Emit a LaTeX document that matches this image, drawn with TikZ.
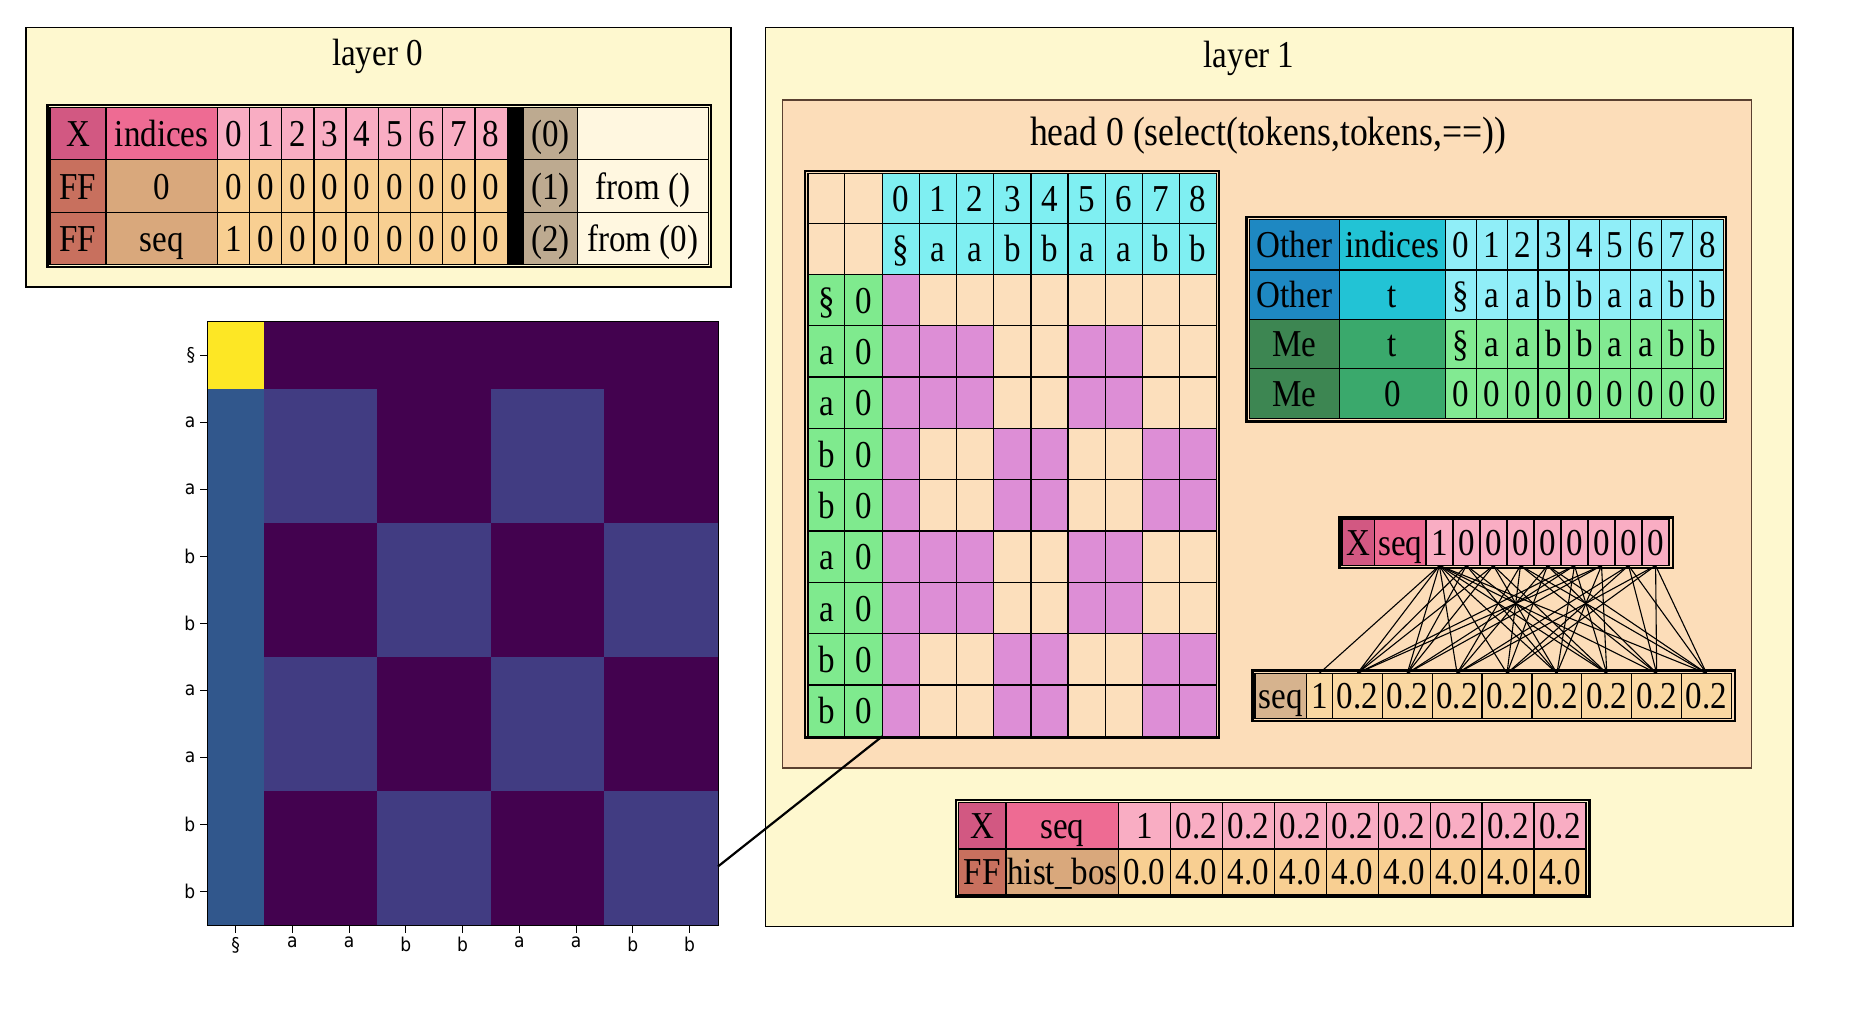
\documentclass[tikz,border=0pt]{standalone}
\usepackage{fontspec}
\setmainfont{Liberation Serif}[FakeStretch=0.87]
\newfontfamily\tickfamily{DejaVu Sans}[FakeStretch=0.9]

\definecolor{layerbg}{HTML}{FEF8CF}
\definecolor{headbg}{HTML}{FCDDB9}
\definecolor{headline}{HTML}{5A4030}
\definecolor{xlab}{HTML}{D25882}
\definecolor{xname}{HTML}{EE6B93}
\definecolor{xval}{HTML}{F9ADC3}
\definecolor{fflab}{HTML}{C8705E}
\definecolor{ffname}{HTML}{D9A87C}
\definecolor{ffval}{HTML}{F8CF92}
\definecolor{opcol}{HTML}{BDAA90}
\definecolor{fromcol}{HTML}{FFF7E0}
\definecolor{cyanhd}{HTML}{7FEFF2}
\definecolor{greenlab}{HTML}{7FEA8E}
\definecolor{selc}{HTML}{DD8ED6}
\definecolor{unsel}{HTML}{FCDFBC}
\definecolor{otherlab}{HTML}{1E88C2}
\definecolor{othername}{HTML}{22C3D5}
\definecolor{otherval}{HTML}{90EEF8}
\definecolor{melab}{HTML}{3D8652}
\definecolor{mename}{HTML}{3AA96C}
\definecolor{meval}{HTML}{82EA92}
\definecolor{seqlab}{HTML}{D6B38E}
\definecolor{seqval}{HTML}{FAD8A2}
\definecolor{hmY}{HTML}{FDE725}
\definecolor{hmD}{HTML}{43024F}
\definecolor{hmB}{HTML}{31578C}
\definecolor{hmS}{HTML}{413C82}

\tikzset{
  tcell/.style={draw=black, line width=1.3pt, inner sep=0pt, outer sep=0pt,
    font=\fontsize{38}{44}\selectfont, text height=26pt, text depth=0pt},
  layerbox/.style={draw=black, line width=1.6pt, fill=layerbg},
  headbox/.style={draw=headline, line width=1.2pt, fill=headbg},
  titletext/.style={font=\fontsize{38}{44}\selectfont, inner sep=0pt},
  tabframe/.style={draw=black, line width=2.4pt},
  edge/.style={draw=black, line width=1.1pt},
  ticklab/.style={font=\tickfamily\fontsize{19}{21}\selectfont, inner sep=1pt},
  tickmark/.style={draw=black, line width=0.9pt},
}

\newcommand\tcell[7]{%
  \node[tcell, fill=#6, minimum width={((#4)-(#2))*1.1907pt},
    minimum height={((#5)-(#3))*1.1907pt}] (#1) at ({((#2)+(#4))/2},{((#3)+(#5))/2}) {#7};}

\begin{document}
\begin{tikzpicture}[x=1.1907pt, y=-1.1907pt]
\useasboundingbox (0,0) rectangle (1568,851);
\fill[white] (0,0) rectangle (1568,851);

% ================= layer 0 =================
\draw[layerbox] (22,23) rectangle (614,241);
\node[titletext] (l0title) at (317,47) {layer 0};

\tcell{a0l}{42}{90}{89}{134}{xlab}{X}
\tcell{a0n}{89}{90}{182.5}{134}{xname}{indices}
\tcell{a1l}{42}{134}{89}{178.5}{fflab}{FF}
\tcell{a1n}{89}{134}{182.5}{178.5}{ffname}{0}
\tcell{a2l}{42}{178.5}{89}{222}{fflab}{FF}
\tcell{a2n}{89}{178.5}{182.5}{222}{ffname}{seq}
\foreach \k/\v in {0/1,1/0,2/0,3/0,4/0,5/0,6/0,7/0,8/0}{
  \pgfmathsetmacro\xa{182.5+27.05*\k}\pgfmathsetmacro\xb{\xa+27.05}
  \tcell{a0v\k}{\xa}{90}{\xb}{134}{xval}{\k}
  \tcell{a1v\k}{\xa}{134}{\xb}{178.5}{ffval}{0}
  \tcell{a2v\k}{\xa}{178.5}{\xb}{222}{ffval}{\v}
}
\tcell{abar}{426}{90}{439.5}{222}{black}{}
\tcell{a0p}{439.5}{90}{485}{134}{opcol}{(0)}
\tcell{a1p}{439.5}{134}{485}{178.5}{opcol}{(1)}
\tcell{a2p}{439.5}{178.5}{485}{222}{opcol}{(2)}
\tcell{a0f}{485}{90}{595}{134}{fromcol}{}
\tcell{a1f}{485}{134}{595}{178.5}{fromcol}{from ()}
\tcell{a2f}{485}{178.5}{595}{222}{fromcol}{from (0)}
\draw[tabframe] (40,88) rectangle (597,224);

% ================= heatmap =================
\foreach \i in {0,...,8}{
  \foreach \j in {0,...,8}{
    \pgfmathtruncatemacro\ti{{0,1,1,2,2,1,1,2,2}[\i]}
    \pgfmathtruncatemacro\tj{{0,1,1,2,2,1,1,2,2}[\j]}
    \def\hc{hmD}
    \ifnum\i=0
      \ifnum\j=0 \def\hc{hmY}\fi
    \else
      \ifnum\j=0 \def\hc{hmB}\else
        \ifnum\ti=\tj \def\hc{hmS}\fi
      \fi
    \fi
    \fill[\hc] ({174+47.667*\j},{270+56.333*\i}) rectangle ++(47.8,56.5);
  }
}
\draw[line width=0.9pt] (174,270) rectangle (603,777);
\foreach \i/\t in {0/§,1/a,2/a,3/b,4/b,5/a,6/a,7/b,8/b}{
  \pgfmathsetmacro\yc{270+56.333*(\i+0.5)}
  \pgfmathsetmacro\xc{174+47.667*(\i+0.5)}
  \draw[tickmark] (174,\yc) -- (168,\yc);
  \node[ticklab, anchor=east] (yl\i) at (165,\yc) {\t};
  \draw[tickmark] (\xc,777) -- (\xc,783.5);
  \node[ticklab, anchor=north] (xl\i) at (\xc,786) {\t};
}
\coordinate (hmR) at (603,727.7);

% ================= layer 1 =================
\draw[layerbox] (643,23) rectangle (1506,778);
\node[titletext] (l1title) at (1049,49) {layer 1};
\draw[headbox] (657,84) rectangle (1471,645);
\node[titletext, font=\fontsize{41}{47}\selectfont] (h0title) at (1065,114) {head 0 (select(tokens,tokens,==))};

% ---- selection grid ----
\tcell{gh0a}{678.5}{145.5}{709.5}{187.5}{unsel}{}
\tcell{gh0b}{709.5}{145.5}{741}{187.5}{unsel}{}
\tcell{gh1a}{678.5}{187.5}{709.5}{230.5}{unsel}{}
\tcell{gh1b}{709.5}{187.5}{741}{230.5}{unsel}{}
\foreach \j/\t in {0/§,1/a,2/a,3/b,4/b,5/a,6/a,7/b,8/b}{
  \pgfmathsetmacro\xa{741+31.2*\j}\pgfmathsetmacro\xb{\xa+31.2}
  \tcell{gi\j}{\xa}{145.5}{\xb}{187.5}{cyanhd}{\j}
  \tcell{gt\j}{\xa}{187.5}{\xb}{230.5}{cyanhd}{\t}
}
\foreach \i/\t/\c in {0/§/0,1/a/1,2/a/1,3/b/2,4/b/2,5/a/1,6/a/1,7/b/2,8/b/2}{
  \pgfmathsetmacro\ya{230.5+43.1*\i}\pgfmathsetmacro\yb{\ya+43.1}
  \tcell{gl\i}{678.5}{\ya}{709.5}{\yb}{greenlab}{\t}
  \tcell{gz\i}{709.5}{\ya}{741}{\yb}{greenlab}{0}
  \foreach \j/\d in {0/0,1/1,2/1,3/2,4/2,5/1,6/1,7/2,8/2}{
    \pgfmathsetmacro\xa{741+31.2*\j}\pgfmathsetmacro\xb{\xa+31.2}
    \pgfmathtruncatemacro\sel{(\j==0)||(\c==\d)}
    \ifnum\sel=1 \def\cc{selc}\else\def\cc{unsel}\fi
    \tcell{g-\i-\j}{\xa}{\ya}{\xb}{\yb}{\cc}{}
  }
}
\draw[tabframe] (676,143.5) rectangle (1024,619.5);

% ---- Other / Me table ----
\tcell{o0l}{1049.5}{184.5}{1124.7}{226.7}{otherlab}{Other}
\tcell{o0n}{1124.7}{184.5}{1214}{226.7}{othername}{indices}
\tcell{o1l}{1049.5}{226.7}{1124.7}{268.1}{otherlab}{Other}
\tcell{o1n}{1124.7}{226.7}{1214}{268.1}{othername}{t}
\tcell{o2l}{1049.5}{268.1}{1124.7}{309.5}{melab}{Me}
\tcell{o2n}{1124.7}{268.1}{1214}{309.5}{mename}{t}
\tcell{o3l}{1049.5}{309.5}{1124.7}{351.5}{melab}{Me}
\tcell{o3n}{1124.7}{309.5}{1214}{351.5}{mename}{0}
\foreach \k/\t in {0/§,1/a,2/a,3/b,4/b,5/a,6/a,7/b,8/b}{
  \pgfmathsetmacro\xa{1214+25.92*\k}\pgfmathsetmacro\xb{\xa+25.92}
  \tcell{o0v\k}{\xa}{184.5}{\xb}{226.7}{otherval}{\k}
  \tcell{o1v\k}{\xa}{226.7}{\xb}{268.1}{otherval}{\t}
  \tcell{o2v\k}{\xa}{268.1}{\xb}{309.5}{meval}{\t}
  \tcell{o3v\k}{\xa}{309.5}{\xb}{351.5}{meval}{0}
}
\draw[tabframe] (1047,182) rectangle (1449.5,354);

% ---- X seq (small) ----
\tcell{sxl}{1127}{436.5}{1154.5}{475}{xlab}{X}
\tcell{sxn}{1154.5}{436.5}{1197.5}{475}{xname}{seq}
\foreach \k/\v in {0/1,1/0,2/0,3/0,4/0,5/0,6/0,7/0,8/0}{
  \pgfmathsetmacro\xa{1197.5+22.7*\k}\pgfmathsetmacro\xb{\xa+22.7}
  \tcell{t\k}{\xa}{436.5}{\xb}{475}{xval}{\v}
}
\draw[tabframe] (1125,434.5) rectangle (1405,477);

% ---- seq aggregated ----
\tcell{sbn}{1054}{565.5}{1097}{603.5}{seqlab}{seq}
\tcell{b0}{1097}{565.5}{1119}{603.5}{seqval}{1}
\foreach \k in {1,...,8}{
  \pgfmathsetmacro\xa{1119+41.9*(\k-1)}\pgfmathsetmacro\xb{\xa+41.9}
  \tcell{b\k}{\xa}{565.5}{\xb}{603.5}{seqval}{0.2}
}
\draw[tabframe] (1052,563) rectangle (1457,605.5);

% ---- attention edges ----
\foreach \i/\c in {0/0,1/1,2/1,3/2,4/2,5/1,6/1,7/2,8/2}{
  \foreach \j/\d in {0/0,1/1,2/1,3/2,4/2,5/1,6/1,7/2,8/2}{
    \pgfmathtruncatemacro\sel{(\j==0)||(\c==\d)}
    \ifnum\sel=1 \draw[edge] (t\j.south) -- (b\i.north);\fi
  }
}

% ---- bottom result table ----
\tcell{r0l}{805}{674}{845}{713}{xlab}{X}
\tcell{r0n}{845}{674}{939.5}{713}{xname}{seq}
\tcell{r1l}{805}{713}{845}{751}{fflab}{FF}
\tcell{r1n}{845}{713}{939.5}{751}{ffname}{hist\_bos}
\foreach \k/\v/\w in {0/1/0.0,1/0.2/4.0,2/0.2/4.0,3/0.2/4.0,4/0.2/4.0,5/0.2/4.0,6/0.2/4.0,7/0.2/4.0,8/0.2/4.0}{
  \pgfmathsetmacro\xa{939.5+43.6*\k}\pgfmathsetmacro\xb{\xa+43.6}
  \tcell{r0v\k}{\xa}{674}{\xb}{713}{xval}{\v}
  \tcell{r1v\k}{\xa}{713}{\xb}{751}{ffval}{\w}
}
\draw[tabframe] (803,672) rectangle (1335,753);

% ---- connector heatmap -> grid ----
\draw[line width=2.2pt] (hmR) -- (g-8-0.south west);
\end{tikzpicture}
\end{document}
